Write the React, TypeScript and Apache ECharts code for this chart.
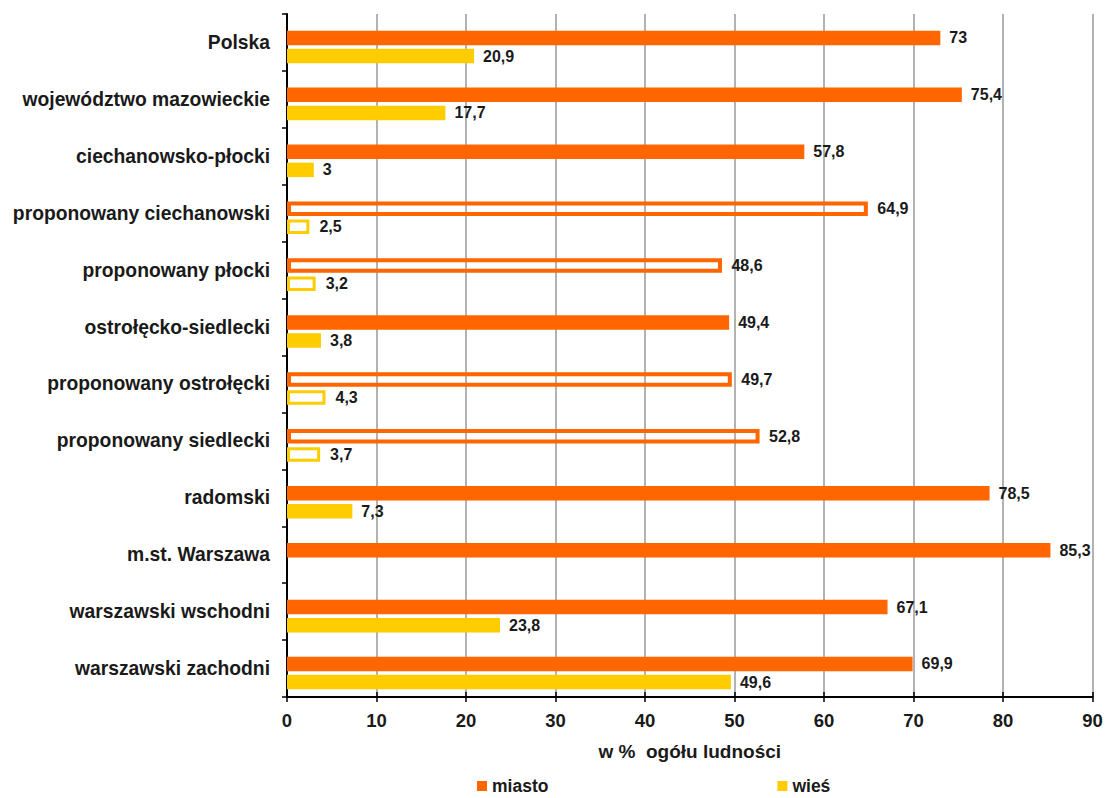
import React, { useEffect, useRef } from "react";
import * as echarts from "echarts";

const categories = [
  "Polska",
  "województwo mazowieckie",
  "ciechanowsko-płocki",
  "proponowany ciechanowski",
  "proponowany płocki",
  "ostrołęcko-siedlecki",
  "proponowany ostrołęcki",
  "proponowany siedlecki",
  "radomski",
  "m.st. Warszawa",
  "warszawski wschodni",
  "warszawski zachodni",
];
const miasto: number[] = [73, 75.4, 57.8, 64.9, 48.6, 49.4, 49.7, 52.8, 78.5, 85.3, 67.1, 69.9];
const wies: (number | null)[] = [20.9, 17.7, 3, 2.5, 3.2, 3.8, 4.3, 3.7, 7.3, null, 23.8, 49.6];
const proposed: boolean[] = [false, false, false, true, true, false, true, true, false, false, false, false];
const xTicks = { min: 0, max: 90, interval: 10 };
const xTitle = "w %  ogółu ludności";
const seriesNames = ["miasto", "wieś"];

const ORANGE = "#FF6600";
const YELLOW = "#FFCC00";
const FONT = "Liberation Sans";

function fmt(v: number) {
  return String(v).replace(".", ",");
}

function build(values: (number | null)[], color: string, bw: number) {
  return values.map((v, i) => {
    if (v === null) return null;
    if (proposed[i]) {
      return {
        value: v,
        itemStyle: { color: "none", borderColor: color, borderWidth: bw },
      };
    }
    return { value: v };
  });
}

export default function App() {
  const ref = useRef<HTMLDivElement>(null);
  useEffect(() => {
    if (!ref.current) return;
    const chart = echarts.init(ref.current, null, { renderer: "svg" });
    const label = {
      show: true,
      position: "right",
      distance: 9,
      fontFamily: FONT,
      fontWeight: "bold",
      fontSize: 16,
      color: "#1a1a1a",
      formatter: (p: any) => fmt(p.value),
    };
    chart.setOption({
      animation: false,
      backgroundColor: "#fff",
      grid: [
        { left: 287, right: 14.5, top: 14, bottom: 101 },
        { left: 287, right: 14.5, top: 18.5, bottom: 96.5 },
      ],
      legend: {
        data: seriesNames,
        left: 472,
        top: 772,
        itemWidth: 10,
        itemHeight: 10,
        itemGap: 229,
        icon: "rect",
        textStyle: { fontFamily: FONT, fontWeight: "bold", fontSize: 17.5, color: "#1a1a1a", lineHeight: 18 },
      },
      xAxis: [
        {
          gridIndex: 0,
          type: "value",
          position: "bottom",
          ...xTicks,
          name: xTitle,
          nameLocation: "middle",
          nameGap: 45,
          nameTextStyle: { fontFamily: FONT, fontWeight: "bold", fontSize: 19, color: "#1a1a1a" },
          axisLine: { show: true, lineStyle: { color: "#000", width: 2 } },
          axisTick: { show: true, length: 5, lineStyle: { color: "#000", width: 1.5 } },
          axisLabel: { margin: 14, fontFamily: FONT, fontWeight: "bold", fontSize: 18.5, color: "#1a1a1a" },
          splitLine: { show: true, lineStyle: { color: "#999", width: 1.5 } },
        },
        {
          gridIndex: 0,
          type: "value",
          position: "bottom",
          ...xTicks,
          axisLine: { show: false },
          axisTick: { show: true, inside: true, length: 5, lineStyle: { color: "#000", width: 1.5 } },
          axisLabel: { show: false },
          splitLine: { show: false },
        },
        {
          gridIndex: 1,
          type: "value",
          ...xTicks,
          show: false,
        },
      ],
      yAxis: [
        {
          gridIndex: 0,
          type: "category",
          data: categories,
          inverse: true,
          axisLine: { show: true, lineStyle: { color: "#000", width: 2 } },
          axisTick: { show: true, length: 5, lineStyle: { color: "#000", width: 1.5 } },
          axisLabel: { margin: 17, fontFamily: FONT, fontWeight: "bold", fontSize: 19.3, color: "#1a1a1a" },
          splitLine: { show: false },
        },
        {
          gridIndex: 1,
          type: "category",
          data: categories,
          inverse: true,
          show: false,
        },
      ],
      series: [
        {
          name: seriesNames[0],
          type: "bar",
          xAxisIndex: 2,
          yAxisIndex: 1,
          barWidth: 14.5,
          barGap: "25%",
          itemStyle: { color: ORANGE },
          label,
          data: build(miasto, ORANGE, 4),
        },
        {
          name: seriesNames[1],
          type: "bar",
          xAxisIndex: 2,
          yAxisIndex: 1,
          barWidth: 14.5,
          barGap: "25%",
          itemStyle: { color: YELLOW },
          label,
          data: build(wies, YELLOW, 3),
        },
      ],
    });
    return () => chart.dispose();
  }, []);
  return (
    <div
      ref={ref}
      style={{ position: "fixed", left: 0, top: 0, width: 1107, height: 798, background: "#fff" }}
    />
  );
}
